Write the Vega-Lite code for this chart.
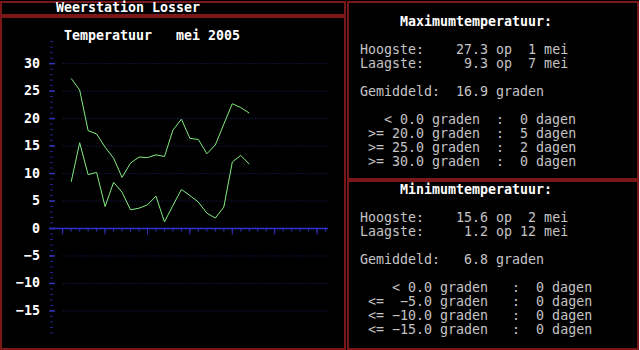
{
  "$schema": "https://vega.github.io/schema/vega-lite/v6.json",
  "background": "#000000",
  "padding": 0,
  "spacing": 1,
  "config": {
    "view": {"stroke": "#7a1818", "strokeWidth": 2},
    "text": {"font": "DejaVu Sans Mono", "fontSize": 13.3, "align": "left", "baseline": "alphabetic"}
  },
  "datasets": {
    "temp": [
      {"dag": 1, "max": 27.3, "min": 8.5},
      {"dag": 2, "max": 25.2, "min": 15.6},
      {"dag": 3, "max": 17.8, "min": 9.8},
      {"dag": 4, "max": 17.2, "min": 10.2},
      {"dag": 5, "max": 14.8, "min": 4.0},
      {"dag": 6, "max": 12.8, "min": 8.4},
      {"dag": 7, "max": 9.3, "min": 6.6},
      {"dag": 8, "max": 11.9, "min": 3.4},
      {"dag": 9, "max": 13.0, "min": 3.7},
      {"dag": 10, "max": 12.9, "min": 4.3},
      {"dag": 11, "max": 13.4, "min": 5.9},
      {"dag": 12, "max": 13.1, "min": 1.2},
      {"dag": 13, "max": 17.9, "min": 4.2},
      {"dag": 14, "max": 19.9, "min": 7.1},
      {"dag": 15, "max": 16.4, "min": 6.0},
      {"dag": 16, "max": 16.2, "min": 4.8},
      {"dag": 17, "max": 13.6, "min": 2.8},
      {"dag": 18, "max": 15.2, "min": 1.9},
      {"dag": 19, "max": 19.0, "min": 3.9},
      {"dag": 20, "max": 22.7, "min": 12.1},
      {"dag": 21, "max": 22.0, "min": 13.3},
      {"dag": 22, "max": 21.0, "min": 11.7}
    ],
    "grid": [{"g": -15}, {"g": -10}, {"g": -5}, {"g": 5}, {"g": 10}, {"g": 15}, {"g": 20}, {"g": 25}, {"g": 30}],
    "ymajor": [{"g": -15}, {"g": -10}, {"g": -5}, {"g": 0}, {"g": 5}, {"g": 10}, {"g": 15}, {"g": 20}, {"g": 25}, {"g": 30}],
    "yminor": [{"g":-19},{"g":-18},{"g":-17},{"g":-16},{"g":-15},{"g":-14},{"g":-13},{"g":-12},{"g":-11},{"g":-10},{"g":-9},{"g":-8},{"g":-7},{"g":-6},{"g":-5},{"g":-4},{"g":-3},{"g":-2},{"g":-1},{"g":0},{"g":1},{"g":2},{"g":3},{"g":4},{"g":5},{"g":6},{"g":7},{"g":8},{"g":9},{"g":10},{"g":11},{"g":12},{"g":13},{"g":14},{"g":15},{"g":16},{"g":17},{"g":18},{"g":19},{"g":20},{"g":21},{"g":22},{"g":23},{"g":24},{"g":25},{"g":26},{"g":27},{"g":28},{"g":29},{"g":30},{"g":31},{"g":32},{"g":33},{"g":34}],
    "xmajor": [{"t": 0}, {"t": 5}, {"t": 10}, {"t": 15}, {"t": 20}, {"t": 25}, {"t": 30}],
    "xminor": [{"t":0},{"t":1},{"t":2},{"t":3},{"t":4},{"t":5},{"t":6},{"t":7},{"t":8},{"t":9},{"t":10},{"t":11},{"t":12},{"t":13},{"t":14},{"t":15},{"t":16},{"t":17},{"t":18},{"t":19},{"t":20},{"t":21},{"t":22},{"t":23},{"t":24},{"t":25},{"t":26},{"t":27},{"t":28},{"t":29},{"t":30},{"t":31}],
    "maxpanel": [
      {"col": 50, "row": 1, "kind": "kop", "txt": "Maximumtemperatuur:"},
      {"col": 45, "row": 3, "kind": "tekst", "txt": "Hoogste:\u00a0\u00a0\u00a0\u00a027.3\u00a0op\u00a0\u00a01\u00a0mei"},
      {"col": 45, "row": 4, "kind": "tekst", "txt": "Laagste:\u00a0\u00a0\u00a0\u00a0\u00a09.3\u00a0op\u00a0\u00a07\u00a0mei"},
      {"col": 45, "row": 6, "kind": "tekst", "txt": "Gemiddeld:\u00a0\u00a016.9\u00a0graden"},
      {"col": 48, "row": 8, "kind": "tekst", "txt": "<\u00a00.0\u00a0graden\u00a0\u00a0:\u00a0\u00a00\u00a0dagen"},
      {"col": 46, "row": 9, "kind": "tekst", "txt": ">=\u00a020.0\u00a0graden\u00a0\u00a0:\u00a0\u00a05\u00a0dagen"},
      {"col": 46, "row": 10, "kind": "tekst", "txt": ">=\u00a025.0\u00a0graden\u00a0\u00a0:\u00a0\u00a02\u00a0dagen"},
      {"col": 46, "row": 11, "kind": "tekst", "txt": ">=\u00a030.0\u00a0graden\u00a0\u00a0:\u00a0\u00a00\u00a0dagen"}
    ],
    "minpanel": [
      {"col": 50, "row": 13, "kind": "kop", "txt": "Minimumtemperatuur:"},
      {"col": 45, "row": 15, "kind": "tekst", "txt": "Hoogste:\u00a0\u00a0\u00a0\u00a015.6\u00a0op\u00a0\u00a02\u00a0mei"},
      {"col": 45, "row": 16, "kind": "tekst", "txt": "Laagste:\u00a0\u00a0\u00a0\u00a0\u00a01.2\u00a0op\u00a012\u00a0mei"},
      {"col": 45, "row": 18, "kind": "tekst", "txt": "Gemiddeld:\u00a0\u00a0\u00a06.8\u00a0graden"},
      {"col": 49, "row": 20, "kind": "tekst", "txt": "<\u00a00.0\u00a0graden\u00a0\u00a0\u00a0:\u00a0\u00a00\u00a0dagen"},
      {"col": 46, "row": 21, "kind": "tekst", "txt": "<=\u00a0\u00a0\u22125.0\u00a0graden\u00a0\u00a0\u00a0:\u00a0\u00a00\u00a0dagen"},
      {"col": 46, "row": 22, "kind": "tekst", "txt": "<=\u00a0\u221210.0\u00a0graden\u00a0\u00a0\u00a0:\u00a0\u00a00\u00a0dagen"},
      {"col": 46, "row": 23, "kind": "tekst", "txt": "<=\u00a0\u221215.0\u00a0graden\u00a0\u00a0\u00a0:\u00a0\u00a00\u00a0dagen"}
    ]
  },
  "hconcat": [
    {
      "spacing": 0,
      "vconcat": [
        {
          "width": 344,
          "height": 13,
          "data": {"values": [{"col": 7, "row": 0, "txt": "Weerstation Losser"}]},
          "mark": {"type": "text", "fontWeight": "bold", "color": "#ffffff"},
          "encoding": {
            "x": {"field": "col", "type": "quantitative", "scale": {"domain": [0.125, 43.125], "nice": false, "zero": false}, "axis": null},
            "y": {"field": "row", "type": "quantitative", "scale": {"domain": [-0.75, 0.1786], "reverse": true, "nice": false, "zero": false}, "axis": null},
            "text": {"field": "txt"}
          }
        },
        {
          "width": 344,
          "height": 332,
          "layer": [
            {
              "data": {"name": "grid"},
              "mark": {"type": "rule", "color": "#20206e", "strokeDash": [1, 2], "strokeWidth": 1},
              "encoding": {
                "x": {"datum": 0, "type": "quantitative", "scale": {"domain": [-7.2759, 33.29], "nice": false, "zero": false}, "axis": null},
                "x2": {"datum": 31.2},
                "y": {"field": "g", "type": "quantitative", "scale": {"domain": [-21.925, 38.483], "nice": false, "zero": false}, "axis": null}
              }
            },
            {
              "data": {"name": "yminor"},
              "mark": {"type": "rule", "color": "#24248c", "strokeWidth": 1},
              "encoding": {
                "x": {"datum": -1.498, "type": "quantitative", "axis": null},
                "x2": {"datum": -1.144},
                "y": {"field": "g", "type": "quantitative", "axis": null}
              }
            },
            {
              "data": {"name": "ymajor"},
              "mark": {"type": "rule", "color": "#3434b8", "strokeWidth": 1.5},
              "encoding": {
                "x": {"datum": -1.6, "type": "quantitative", "axis": null},
                "x2": {"datum": -0.9},
                "y": {"field": "g", "type": "quantitative", "axis": null}
              }
            },
            {
              "data": {"name": "ymajor"},
              "mark": {"type": "text", "align": "right", "baseline": "middle", "fontWeight": "bold", "color": "#ffffff"},
              "encoding": {
                "x": {"datum": -2.677, "type": "quantitative", "axis": null},
                "y": {"field": "g", "type": "quantitative", "axis": null},
                "text": {"field": "g", "type": "quantitative", "format": "d"}
              }
            },
            {
              "data": {"values": [{"g": 0}]},
              "mark": {"type": "rule", "color": "#3030d0", "strokeWidth": 1.5},
              "encoding": {
                "x": {"datum": -1.6, "type": "quantitative", "axis": null},
                "x2": {"datum": 31.3},
                "y": {"field": "g", "type": "quantitative", "axis": null}
              }
            },
            {
              "data": {"name": "xminor"},
              "mark": {"type": "rule", "color": "#3030c8", "strokeWidth": 1},
              "encoding": {
                "x": {"field": "t", "type": "quantitative", "axis": null},
                "y": {"datum": 0, "type": "quantitative", "axis": null},
                "y2": {"datum": -0.55}
              }
            },
            {
              "data": {"name": "xmajor"},
              "mark": {"type": "rule", "color": "#3030c8", "strokeWidth": 1},
              "encoding": {
                "x": {"field": "t", "type": "quantitative", "axis": null},
                "y": {"datum": 0, "type": "quantitative", "axis": null},
                "y2": {"datum": -1.1}
              }
            },
            {
              "data": {"name": "temp"},
              "mark": {"type": "line", "color": "#80ec80", "strokeWidth": 1},
              "encoding": {
                "x": {"field": "dag", "type": "quantitative", "axis": null},
                "y": {"field": "max", "type": "quantitative", "axis": null}
              }
            },
            {
              "data": {"name": "temp"},
              "mark": {"type": "line", "color": "#80ec80", "strokeWidth": 1},
              "encoding": {
                "x": {"field": "dag", "type": "quantitative", "axis": null},
                "y": {"field": "min", "type": "quantitative", "axis": null}
              }
            },
            {
              "data": {"values": [{"txt": "Temperatuur\u00a0\u00a0\u00a0mei 2005"}]},
              "mark": {"type": "text", "fontWeight": "bold", "color": "#ffffff"},
              "encoding": {
                "x": {"datum": 0.153, "type": "quantitative", "axis": null},
                "y": {"datum": 34.21, "type": "quantitative", "axis": null},
                "text": {"field": "txt"}
              }
            }
          ]
        }
      ]
    },
    {
      "spacing": 0,
      "vconcat": [
        {
          "width": 290,
          "height": 177,
          "data": {"name": "maxpanel"},
          "encoding": {
            "x": {"field": "col", "type": "quantitative", "scale": {"domain": [43.5, 79.75], "nice": false, "zero": false}, "axis": null},
            "y": {"field": "row", "type": "quantitative", "scale": {"domain": [-0.75, 11.893], "reverse": true, "nice": false, "zero": false}, "axis": null},
            "text": {"field": "txt"}
          },
          "layer": [
            {"transform": [{"filter": "datum.kind === 'kop'"}], "mark": {"type": "text", "fontWeight": "bold", "color": "#ffffff"}},
            {"transform": [{"filter": "datum.kind === 'tekst'"}], "mark": {"type": "text", "color": "#c4c4c4"}}
          ]
        },
        {
          "width": 290,
          "height": 168,
          "data": {"name": "minpanel"},
          "encoding": {
            "x": {"field": "col", "type": "quantitative", "scale": {"domain": [43.5, 79.75], "nice": false, "zero": false}, "axis": null},
            "y": {"field": "row", "type": "quantitative", "scale": {"domain": [12.036, 24.036], "reverse": true, "nice": false, "zero": false}, "axis": null},
            "text": {"field": "txt"}
          },
          "layer": [
            {"transform": [{"filter": "datum.kind === 'kop'"}], "mark": {"type": "text", "fontWeight": "bold", "color": "#ffffff"}},
            {"transform": [{"filter": "datum.kind === 'tekst'"}], "mark": {"type": "text", "color": "#c4c4c4"}}
          ]
        }
      ]
    }
  ]
}
